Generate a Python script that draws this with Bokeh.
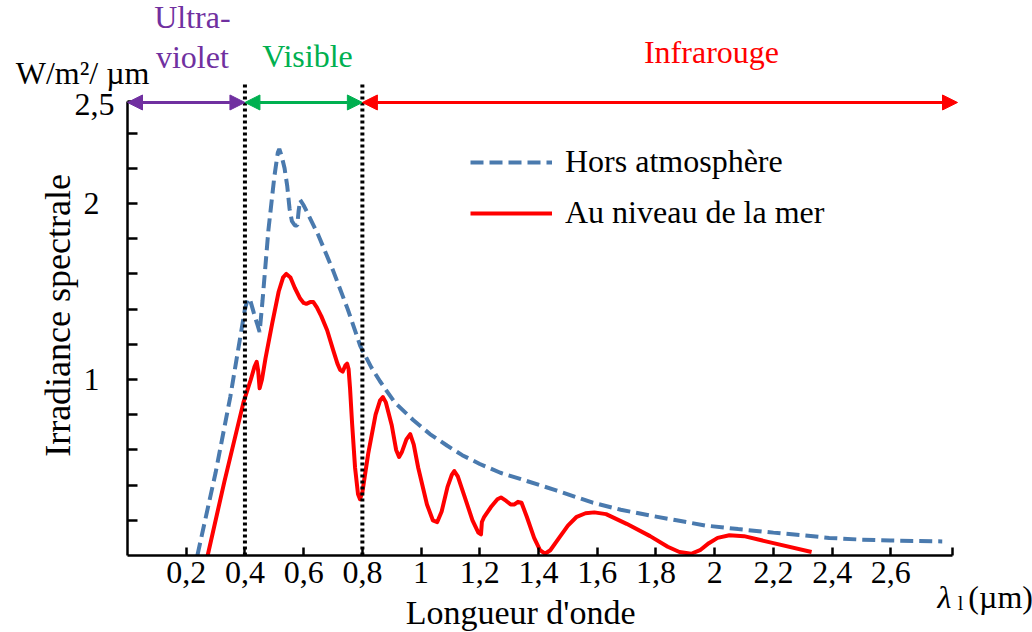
import math
from bokeh.plotting import figure
from bokeh.models import FixedTicker, Label, Arrow, NormalHead, Legend, LegendItem, Range1d
from bokeh.embed import file_html
from bokeh.resources import INLINE

FONT = "Liberation Serif"

# ---- data ----
wl_hors = [0.238, 0.30, 0.35, 0.385, 0.40, 0.41, 0.418, 0.43, 0.45, 0.46, 0.47, 0.48, 0.50,
           0.512, 0.517, 0.525, 0.535, 0.544, 0.552, 0.56, 0.57, 0.578, 0.583, 0.588, 0.60,
           0.65, 0.70, 0.75, 0.793, 0.83, 0.86, 0.91, 0.973, 1.03, 1.088, 1.14, 1.20, 1.27,
           1.347, 1.46, 1.585, 1.68, 1.78, 1.87, 1.97, 2.08, 2.20, 2.30, 2.39, 2.50, 2.60, 2.775]
irr_hors = [0.0, 0.47, 0.90, 1.25, 1.40, 1.46, 1.45, 1.38, 1.27, 1.45, 1.65, 1.85, 2.15,
            2.29, 2.31, 2.27, 2.20, 2.10, 1.97, 1.90, 1.875, 1.875, 1.96, 2.02, 1.99,
            1.82, 1.62, 1.40, 1.19, 1.07, 0.99, 0.87, 0.77, 0.69, 0.625, 0.57, 0.52, 0.47,
            0.43, 0.37, 0.30, 0.26, 0.227, 0.20, 0.17, 0.15, 0.13, 0.115, 0.10, 0.09, 0.085, 0.08]

wl_mer = [0.273, 0.33, 0.395, 0.42, 0.432, 0.44, 0.445, 0.45, 0.458, 0.47, 0.493, 0.515, 0.53,
          0.541, 0.555, 0.57, 0.588, 0.60, 0.609, 0.622, 0.633, 0.645, 0.66, 0.68, 0.70, 0.715,
          0.724, 0.733, 0.742, 0.748, 0.753, 0.758, 0.765, 0.775, 0.785, 0.792, 0.80, 0.82,
          0.845, 0.86, 0.87, 0.88, 0.90, 0.915, 0.925, 0.935, 0.95, 0.963, 0.975, 0.99, 1.02,
          1.04, 1.055, 1.07, 1.09, 1.105, 1.113, 1.125, 1.145, 1.175, 1.195, 1.204, 1.207,
          1.215, 1.24, 1.26, 1.272, 1.29, 1.305, 1.318, 1.33, 1.342, 1.36, 1.385, 1.405, 1.422,
          1.44, 1.47, 1.50, 1.53, 1.56, 1.59, 1.63, 1.70, 1.78, 1.84, 1.88, 1.92, 1.95, 1.98,
          2.01, 2.05, 2.10, 2.20, 2.33]
irr_mer = [0.0, 0.42, 0.87, 1.00, 1.07, 1.10, 1.05, 0.95, 1.00, 1.12, 1.32, 1.50, 1.58,
           1.60, 1.58, 1.52, 1.46, 1.435, 1.43, 1.44, 1.44, 1.41, 1.36, 1.28, 1.17, 1.09,
           1.055, 1.045, 1.08, 1.09, 1.06, 0.95, 0.75, 0.50, 0.35, 0.32, 0.36, 0.58,
           0.80, 0.88, 0.90, 0.87, 0.74, 0.60, 0.56, 0.59, 0.66, 0.69, 0.63, 0.50, 0.29,
           0.20, 0.19, 0.25, 0.39, 0.46, 0.48, 0.45, 0.35, 0.20, 0.13, 0.12, 0.19,
           0.22, 0.28, 0.32, 0.33, 0.31, 0.29, 0.29, 0.305, 0.30, 0.22, 0.10, 0.03, 0.01,
           0.03, 0.10, 0.17, 0.22, 0.24, 0.245, 0.235, 0.18, 0.11, 0.05, 0.02, 0.01, 0.03, 0.07,
           0.10, 0.115, 0.11, 0.07, 0.02]

x_ticks = [0.2, 0.4, 0.6, 0.8, 1.0, 1.2, 1.4, 1.6, 1.8, 2.0, 2.2, 2.4, 2.6]
x_tick_labels = ["0,2", "0,4", "0,6", "0,8", "1", "1,2", "1,4", "1,6", "1,8", "2", "2,2", "2,4", "2,6"]
y_major = [1.0, 2.0]
y_major_labels = ["1", "2"]
y_minor = [0.2, 0.4, 0.6, 0.8, 1.2, 1.4, 1.6, 1.8, 2.2, 2.4]

band_names = ["Visible", "Infrarouge"]
band_start = [0.0, 0.4, 0.8]
band_end = [0.4, 0.8, 2.827]
band_colors = ["#7030A0", "#00B050", "#FF0000"]
boundaries = [0.4, 0.8]

# ---- layout constants ----
X_END = 2.81      # end of the drawn x axis
Y_END = 2.58      # top of the drawn y axis (labelled "2,5" in the source)
ARROW_Y = 2.574
DOT_TOP = 2.69
PX_X = 293.6      # pixels per µm
PX_Y = 176.0      # pixels per unit of irradiance
W, H = 1032, 632
X0, Y0 = 127, 555  # pixel position of the origin

p = figure(width=W, height=H,
           x_range=Range1d(-X0 / PX_X, (W - X0) / PX_X),
           y_range=Range1d(-(H - Y0) / PX_Y, Y0 / PX_Y),
           output_backend="svg", toolbar_location=None,
           min_border=0, min_border_left=0, min_border_right=0,
           min_border_top=0, min_border_bottom=0)
p.outline_line_color = None
p.grid.visible = False
p.background_fill_color = "white"
p.border_fill_color = "white"

# curves
r_hors = p.line(wl_hors, irr_hors, line_color="#4A7AAE", line_width=4, line_dash="13 6")
r_mer = p.line(wl_mer, irr_mer, line_color="#FF0000", line_width=4, line_join="round")

# boundaries (dotted)
for b in boundaries:
    p.add_layout(Arrow(x_start=b, y_start=0, x_end=b, y_end=DOT_TOP, start=None, end=None,
                       line_color="black", line_width=4, line_dash="3 3"))

# band arrows
for s, e, c in zip(band_start, band_end, band_colors):
    p.add_layout(Arrow(x_start=s, y_start=ARROW_Y, x_end=e, y_end=ARROW_Y, line_color=c, line_width=3,
                       start=NormalHead(size=15, fill_color=c, line_color=c, line_width=1),
                       end=NormalHead(size=15, fill_color=c, line_color=c, line_width=1)))


def lab(x, y, text, color="black", size="32px", align="center", style="normal", angle=0.0):
    p.add_layout(Label(x=x, y=y, text=text, text_color=color, text_font=FONT, text_font_size=size,
                       text_align=align, text_baseline="middle", text_font_style=style, angle=angle))


lab(0.221, 3.057, "Ultra-", color=band_colors[0])
lab(0.221, 2.83, "violet", color=band_colors[0])
lab(0.613, 2.84, band_names[0], color=band_colors[1])
lab(1.989, 2.858, band_names[1], color=band_colors[2])
lab(-0.153, 2.744, "W/m²/ µm")
lab(-0.044, 2.56, "2,5", align="right")
lab(1.339, -0.324, "Longueur d'onde", size="34px")
lab(-0.238, 1.364, "Irradiance spectrale", size="36px", angle=math.pi / 2)
lab(2.759, -0.233, "λ", align="left", style="italic")
lab(2.828, -0.27, "l", align="left", size="20px")
lab(2.864, -0.233, "(µm)", align="left")

# axes (fixed at the origin, bounded)
xa = p.xaxis[0]
xa.fixed_location = 0
xa.bounds = (0, X_END)
xa.ticker = FixedTicker(ticks=x_ticks + [X_END], minor_ticks=[])
ovx = {t: s for t, s in zip(x_ticks, x_tick_labels)}
ovx[X_END] = ""
xa.major_label_overrides = ovx
xa.major_tick_in = 8
xa.major_tick_out = 0
xa.major_tick_line_width = 2.5
xa.minor_tick_line_color = None
xa.axis_line_width = 2.5
xa.major_label_text_font = FONT
xa.major_label_text_font_size = "32px"
xa.major_label_text_color = "black"
xa.major_label_standoff = 6

ya = p.yaxis[0]
ya.fixed_location = 0
ya.bounds = (0, Y_END)
ya.ticker = FixedTicker(ticks=y_major + [Y_END], minor_ticks=y_minor)
ovy = {t: s for t, s in zip(y_major, y_major_labels)}
ovy[Y_END] = ""
ya.major_label_overrides = ovy
ya.major_tick_in = 10
ya.major_tick_out = 0
ya.minor_tick_in = 10
ya.minor_tick_out = 0
ya.major_tick_line_width = 2.5
ya.minor_tick_line_width = 2.5
ya.axis_line_width = 2.5
ya.major_label_text_font = FONT
ya.major_label_text_font_size = "32px"
ya.major_label_text_color = "black"
ya.major_label_standoff = 28

# legend
legend = Legend(items=[LegendItem(label="Hors atmosphère", renderers=[r_hors]),
                       LegendItem(label="Au niveau de la mer", renderers=[r_mer])],
                location=(470, 401), glyph_width=82, glyph_height=36, label_height=36,
                spacing=14, padding=0, margin=0, label_standoff=13,
                label_text_font=FONT, label_text_font_size="32px", label_text_color="black",
                background_fill_alpha=0, border_line_alpha=0)
p.add_layout(legend)

open("out.html", "w").write(file_html(p, INLINE))
